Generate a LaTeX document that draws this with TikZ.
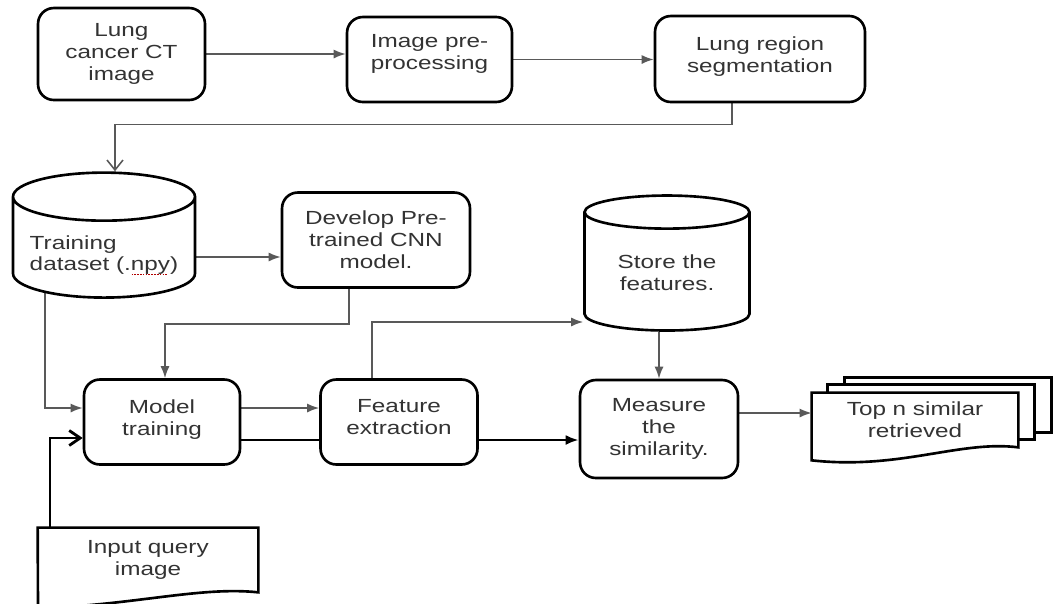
\documentclass[tikz,border=0pt]{standalone}
\usepackage{fontspec}
\setmainfont{Liberation Sans}[FakeStretch=1.28]
\usetikzlibrary{shapes.geometric, arrows.meta, backgrounds}

% rote Punktlinie unter einem Wort
\newcommand\spellmark[1]{\setbox0\hbox{#1}\rlap{\copy0}\textcolor{red!70!black}{\hbox to \wd0{\leaders\hbox to 1.6pt{\hss\rule[-2.4pt]{0.9pt}{0.6pt}\hss}\hfill}}}

\tikzset{
  procbox/.style={draw, line width=1.5pt, rounded corners=9pt, fill=white, align=center, text=black!80},
  dbcyl/.style={cylinder, shape border rotate=90, draw, line width=1.5pt, fill=white, text=black!80},
  docnode/.style={align=center, text=black!80, inner sep=0pt},
  docline/.style={draw, line width=1.5pt, fill=white},
  flow/.style={draw=black!65, line width=0.9pt, -{Latex[length=2.4mm,width=1.8mm]}},
  openflow/.style={draw=black!65, line width=0.9pt, -{Straight Barb[length=2mm,width=3.2mm]}},
  thickflow/.style={draw=black, line width=1.6pt},
}

\begin{document}
\begin{tikzpicture}[x=0.02cm, y=-0.02cm, font=\fontsize{10.8}{12.5}\selectfont]
  \useasboundingbox (0,0) rectangle (1058,603);

  % Obere Reihe
  \node[procbox, minimum width=3.34cm, minimum height=1.84cm] (lungct) at (121.5,54) {Lung\\cancer CT\\image};
  \node[procbox, minimum width=3.3cm, minimum height=1.7cm] (preproc) at (429.5,59.5) {Image pre-\\processing\\[-4pt]\mbox{}};
  \node[procbox, minimum width=4.2cm, minimum height=1.72cm] (segm) at (760,59) {Lung region\\segmentation\\[-7pt]\mbox{}};

  % Datenbanken
  \node[dbcyl, aspect=0.3, minimum width=3.64cm, minimum height=2.5cm, align=left] (traindb) at (104,252)
    {\mbox{}\\[-1pt]Training\\dataset (.\spellmark{npy})};
  \node[dbcyl, aspect=0.3, minimum width=3.3cm, minimum height=2.7cm, align=center] (storedb) at (667,275) {\mbox{}\\[-7pt]Store the\\features.};

  % Mittlere Reihe
  \node[procbox, minimum width=3.76cm, minimum height=1.9cm] (cnn) at (376,240) {Develop Pre-\\trained CNN\\model.};
  \node[procbox, minimum width=3.12cm, minimum height=1.7cm] (modeltr) at (162,422) {Model\\training\\[-7pt]\mbox{}};
  \node[procbox, minimum width=3.14cm, minimum height=1.7cm] (featex) at (399,422) {Feature\\extraction\\[-7pt]\mbox{}};
  \node[procbox, minimum width=3.16cm, minimum height=1.96cm] (measure) at (659,429) {Measure\\the\\similarity.};

  % Dokumente
  \node[docnode, minimum width=4.12cm, minimum height=1.08cm] (topn) at (915,420) {Top n similar\\retrieved};
  \node[docnode, minimum width=4.4cm, minimum height=1.28cm] (query) at (148,560) {Input query\\image};

  \begin{scope}[on background layer]
    % Blaetter
    \foreach \dx/\dy in {33/15, 16/8}
      \draw[docline] ([shift={(\dx,-\dy)}]topn.south west) rectangle ([shift={(\dx,-\dy)}]topn.north east);
    \draw[docline] (topn.north west) -- (topn.north east) -- (topn.south east)
      .. controls (960,440) and (900,470) .. ([yshift=-0.26cm]topn.south west) -- cycle;
    \draw[docline] (query.north west) -- (query.north east) -- (query.south east)
      .. controls (200,586) and (130,606) .. (38,608) -- cycle;

    % Verbindungen
    \draw[flow] (lungct.east) -- (lungct.east -| preproc.west);
    \draw[flow] (preproc.east) -- (preproc.east -| segm.west);
    \draw[openflow] ([xshift=-0.56cm]segm.south) -- ++(0,21) -| ([xshift=0.22cm]traindb.north);
    \coordinate (dbout) at ([yshift=-0.1cm]traindb.east);
    \draw[flow] (dbout) -- (dbout -| cnn.west);
    \draw[flow] ([xshift=-0.54cm]cnn.south) -- ++(0,35) -| ([xshift=0.06cm]modeltr.north);
    \draw[flow] ([xshift=-1.18cm]traindb.center) |- ([yshift=0.28cm]modeltr.west);
    \draw[flow] ([yshift=0.28cm]modeltr.east) -- ([yshift=0.28cm]featex.west);
    \draw[flow] ([xshift=-0.54cm]featex.north) |- ([yshift=-0.94cm]storedb.west);
    \draw[flow] (measure.north |- storedb.south) -- (measure.north);
    \coordinate (simout) at ([yshift=0.32cm]measure.east);
    \draw[flow] (simout) -- (simout -| topn.west);

    % dicke Linien
    \coordinate (mtout) at ([yshift=-0.36cm]modeltr.east);
    \draw[thickflow] (mtout) -- (mtout -| featex.west);
    \coordinate (feout) at ([yshift=-0.36cm]featex.east);
    \draw[thickflow, -{Latex[length=2.6mm,width=2mm]}] (feout) -- (feout -| measure.west);
    \draw[thickflow, -{Straight Barb[length=2.2mm,width=3mm]}] ([xshift=-1.96cm]query.north) |- ([yshift=-0.32cm]modeltr.west);
  \end{scope}
\end{tikzpicture}
\end{document}
